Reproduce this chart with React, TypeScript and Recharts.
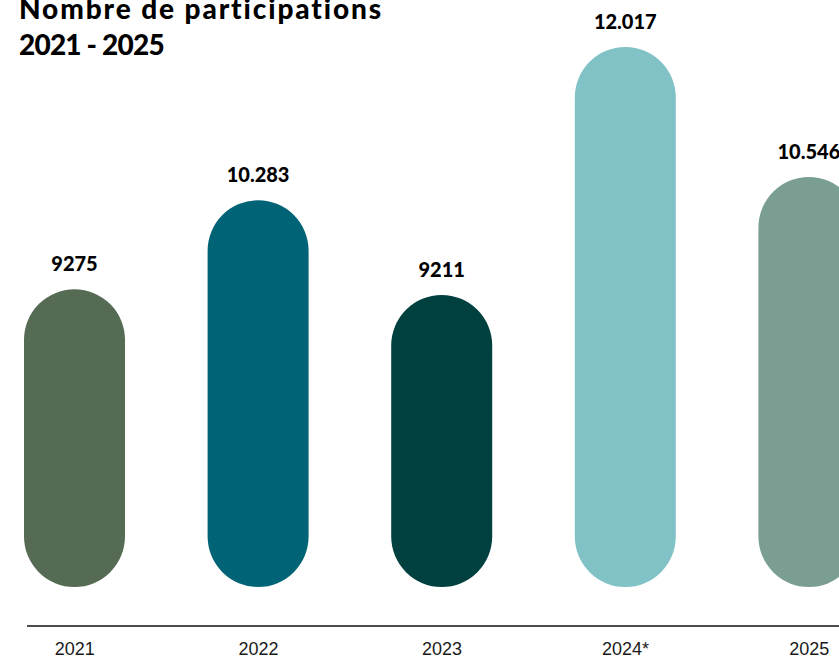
import { BarChart, Bar, XAxis, YAxis, Cell, LabelList } from "recharts";

// categories and values
const years = ["2021", "2022", "2023", "2024*", "2025"];
const participations = [9275, 10283, 9211, 12017, 10546];
const valueLabels = ["9275", "10.283", "9211", "12.017", "10.546"];

const barColors = ["#566b53", "#006476", "#00403f", "#81c2c7", "#7a9f92"];

const data = years.map((year, i) => ({
  year,
  participations: participations[i],
  label: valueLabels[i],
}));

export default function App() {
  return (
    <div
      style={{
        position: "fixed",
        left: 0,
        top: 0,
        width: 839,
        height: 657,
        overflow: "hidden",
        background: "#fff",
      }}
    >
      <div
        style={{
          position: "absolute",
          left: 19,
          top: -10,
          zIndex: 1,
          fontFamily: "Lato",
          fontWeight: 900,
          fontSize: 28,
          lineHeight: "36px",
          color: "#000",
          whiteSpace: "nowrap",
        }}
      >
        <div style={{ letterSpacing: 1.9 }}>Nombre de participations</div>
        <div style={{ letterSpacing: -0.8 }}>2021 - 2025</div>
      </div>
      <BarChart
        width={901}
        height={657}
        data={data}
        margin={{ top: 47, right: 0, bottom: 0, left: 27 }}
      >
        <XAxis
          dataKey="year"
          height={31}
          interval={0}
          padding={{ left: -44, right: 0 }}
          axisLine={{ stroke: "#111", strokeWidth: 1.5 }}
          tickLine={false}
          tickMargin={10}
          tick={{ fontFamily: "Liberation Sans", fontSize: 18, fill: "#1a1a1a" }}
        />
        {/* the original is not drawn to scale, so the axis starts well above zero */}
        <YAxis hide type="number" domain={[5906, 12017]} padding={{ top: 0, bottom: 39 }} />
        <Bar
          dataKey="participations"
          barSize={101}
          radius={[51, 51, 51, 51]}
          isAnimationActive={false}
        >
          {data.map((d, i) => (
            <Cell key={d.year} fill={barColors[i]} />
          ))}
          <LabelList
            dataKey="label"
            position="top"
            offset={18}
            fill="#000"
            style={{ fontFamily: "Lato", fontWeight: 900, fontSize: 20, fill: "#000" }}
          />
        </Bar>
      </BarChart>
    </div>
  );
}
